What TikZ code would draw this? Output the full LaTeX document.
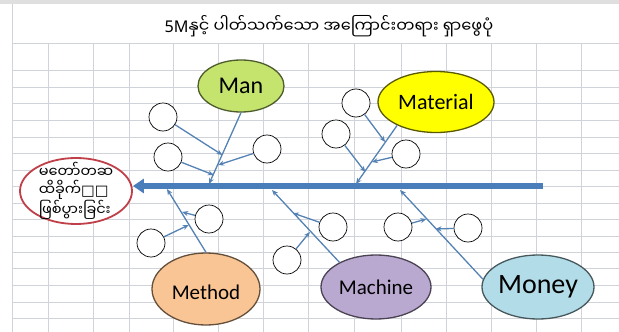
\documentclass[tikz,border=0pt]{standalone}
\usepackage{fontspec}
\usetikzlibrary{shapes.geometric,arrows.meta}
\newfontfamily\carlito{Carlito}
\newfontfamily\mya[Script=Myanmar]{Noto Sans Myanmar UI}
\newfontfamily\dejavu{DejaVu Sans}
\newfontfamily\notosans{Noto Sans}
\definecolor{gridc}{HTML}{D0D4DA}
\definecolor{spinec}{HTML}{4A7EBB}
\definecolor{branchc}{HTML}{5582B5}
\definecolor{headc}{HTML}{C0404A}
\definecolor{manc}{HTML}{C4E46E}
\definecolor{matc}{HTML}{FFFF00}
\definecolor{methc}{HTML}{FAC594}
\definecolor{machc}{HTML}{B9A8CF}
\definecolor{monc}{HTML}{B2DCE8}
\tikzset{
  gridline/.style={draw=gridc, line width=1pt},
  causebox/.style={ellipse, line width=1.3pt, inner sep=0pt},
  subcirc/.style={circle, draw=black, fill=white, line width=0.7pt, minimum size=28pt, inner sep=0pt},
  branch/.style={draw=branchc, line width=1.3pt, -{Stealth[length=6pt,width=5pt]}},
  spine/.style={draw=spinec, line width=5.5pt, -{Triangle[length=11pt,width=14pt]}},
}
\begin{document}
\begin{tikzpicture}[x=1pt,y=-1pt]
\useasboundingbox (0,0) rectangle (619,332);
\fill[white] (0,0) rectangle (619,332);
\fill[gray!25] (0,0) rectangle (619,4);
% grid
\foreach \gx in {48,93,129,173,218,263,308,354,401,446,491,536,581}
  \draw[gridline] (\gx,43) -- (\gx,332);
\draw[gridline] (12,4) -- (12,332);
\foreach \gy in {43,70,87,103,120,137,153,170,186,203,219,236,252,268,285,302,318}
  \draw[gridline] (12,\gy) -- (619,\gy);
% title
\node (title) at (329,26) {\fontsize{16.2}{19}\selectfont{\notosans 5M}{\mya နှင့် ပါတ်သက်သော အကြောင်းတရား ရှာဖွေပုံ}};
% head
\node[ellipse, draw=headc, fill=white, line width=1.8pt, minimum width=112pt, minimum height=66pt, inner sep=0pt] (head) at (76,191) {};
\node[align=left, inner sep=0pt, font={\mya\fontsize{14.5}{18}\selectfont}] (headtxt) at (76,191) {မတော်တဆ\\ ထိခိုက်{\dejavu □□}\\ ဖြစ်ပွားခြင်း};
% spine
\coordinate (spineR) at (543,186);
\draw[spine] (spineR) -- (spineR -| head.east);
% causes
\node[causebox, draw=manc!40!black, fill=manc, minimum width=86pt, minimum height=52pt,
  label={[font=\carlito\fontsize{24}{24}\selectfont]center:Man}] (man) at (241,86) {};
\node[causebox, draw=matc!35!black, fill=matc, minimum width=116pt, minimum height=61pt,
  label={[font=\carlito\fontsize{22}{22}\selectfont]center:Material}] (material) at (436,102) {};
\node[causebox, draw=methc!40!black, fill=methc, minimum width=108pt, minimum height=72pt,
  label={[font=\carlito\fontsize{21}{21}\selectfont, yshift=-3pt]center:Method}] (method) at (206,289) {};
\node[causebox, draw=machc!40!black, fill=machc, minimum width=110pt, minimum height=64pt,
  label={[font=\carlito\fontsize{21}{21}\selectfont]center:Machine}] (machine) at (376,287) {};
\node[causebox, draw=monc!40!black, fill=monc, minimum width=112pt, minimum height=64pt,
  label={[font=\carlito\fontsize{28}{28}\selectfont]center:Money}] (money) at (538,287) {};
% spine endpoints of main branches
\coordinate (manE) at (209,184);
\coordinate (matE) at (356,184);
\coordinate (methE) at (167,189);
\coordinate (machE) at (272,190);
\coordinate (monE) at (400,190);
\draw[branch] (man.south) -- (manE);
\draw[branch] (material.211) -- (matE);
\draw[branch] (method.north) -- (methE);
\draw[branch] (machine.146) -- (machE);
\draw[branch] (money.172) -- (monE);
% sub circles
\node[subcirc] (c1) at (163,117) {};
\node[subcirc] (c2) at (168,157) {};
\node[subcirc] (c3) at (267,149) {};
\node[subcirc] (c4) at (356,103) {};
\node[subcirc] (c5) at (336,134) {};
\node[subcirc] (c6) at (406,154) {};
\node[subcirc] (c7) at (151,243) {};
\node[subcirc] (c8) at (209,219) {};
\node[subcirc] (c9) at (287,260) {};
\node[subcirc] (c10) at (333,227) {};
\node[subcirc] (c11) at (398,227) {};
\node[subcirc] (c12) at (468,228) {};
% targets on branches
\coordinate (t1) at (222.4,155);
\coordinate (t2) at (213.8,175);
\coordinate (t3) at (218.1,165);
\coordinate (t4) at (385.1,142);
\coordinate (t5) at (365.3,172);
\coordinate (t6) at (371.9,162);
\coordinate (t7) at (188.7,225);
\coordinate (t8) at (182.1,212);
\coordinate (t9) at (309.9,232);
\coordinate (t10) at (292.8,213);
\coordinate (t11) at (426.4,219);
\coordinate (t12) at (435.5,229);
\foreach \i in {1,...,12}
  \draw[branch] (c\i) -- (t\i);
\end{tikzpicture}
\end{document}
